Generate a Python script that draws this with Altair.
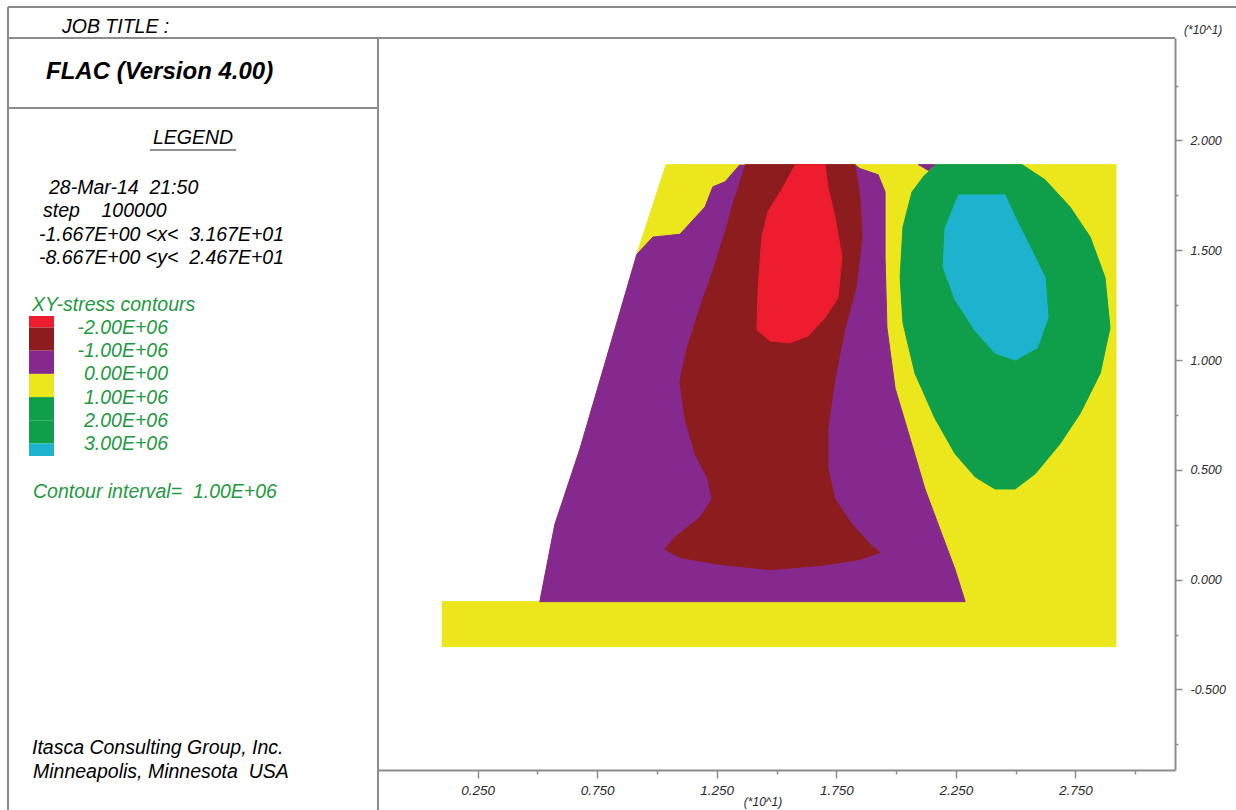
import altair as alt
import pandas as pd

# ---------------------------------------------------------------
# FLAC XY-stress contour plot (coordinates in metres)
# ---------------------------------------------------------------
X_MIN, X_MAX = -1.667, 31.667
Y_MIN, Y_MAX = -8.667, 24.667

X_TICKS = [2.5, 5.0, 7.5, 10.0, 12.5, 15.0, 17.5, 20.0, 22.5, 25.0, 27.5, 30.0]
Y_TICKS = [-7.5, -5.0, -2.5, 0.0, 2.5, 5.0, 7.5, 10.0, 12.5, 15.0, 17.5, 20.0, 22.5]

# model outline (0 .. 1e6 band fills the whole grid)
DOMAIN_X = [1.0, 29.2, 29.2, 10.38, 9.16, 6.78, 5.73, 5.10, 1.0]
DOMAIN_Y = [-3.05, -3.05, 18.9, 18.9, 14.82, 5.96, 2.52, -1.0, -1.0]

# -1e6 .. 0 band
PURPLE_X = [13.47, 12.85, 12.34, 12.01, 10.96, 9.83, 9.16, 6.78, 5.73, 5.10,
            22.89, 22.47, 21.84, 21.21, 20.59, 19.96, 19.62, 19.54, 19.54,
            19.25, 18.49, 18.28]
PURPLE_Y = [18.9, 18.12, 17.89, 16.97, 15.73, 15.60, 14.82, 5.96, 2.52, -1.0,
            -1.0, 0.46, 2.29, 4.13, 6.42, 8.72, 11.47, 14.68, 17.66,
            18.44, 18.72, 18.9]

# -2e6 .. -1e6 band
DARKRED_X = [13.68, 18.28, 18.49, 18.58, 18.33, 17.87, 17.45, 17.15, 17.15,
             17.45, 18.16, 18.91, 19.33, 18.49, 16.82, 14.73, 12.64, 10.96,
             10.33, 10.75, 11.80, 12.30, 12.13, 11.59, 11.17, 10.96, 11.26,
             11.80, 12.34, 12.85, 13.26]
DARKRED_Y = [18.9, 18.9, 17.43, 15.60, 13.30, 11.47, 9.17, 6.88, 5.05,
             3.67, 2.52, 1.61, 1.24, 0.92, 0.64, 0.46, 0.69, 1.01,
             1.38, 1.93, 2.84, 3.67, 4.59, 5.73, 7.34, 9.04, 10.55,
             12.39, 14.08, 15.83, 17.43]

# below -2e6
RED_X = [15.77, 17.03, 17.15, 17.45, 17.74, 17.57, 17.03, 16.32, 15.56,
         14.73, 14.18, 14.23, 14.39, 14.64, 15.15]
RED_Y = [18.9, 18.9, 17.89, 16.51, 14.68, 12.84, 11.93, 11.10, 10.78,
         10.87, 11.38, 13.30, 15.60, 16.74, 17.66]

# 1e6 .. 3e6 bands
GREEN_X = [21.63, 25.27, 26.23, 27.28, 28.12, 28.74, 28.95, 28.54, 27.70,
           26.86, 25.82, 24.98, 24.14, 23.31, 22.47, 21.63, 20.79, 20.29,
           20.17, 20.29, 20.67, 21.21]
GREEN_Y = [18.9, 18.9, 18.21, 16.97, 15.60, 13.76, 11.47, 9.40, 7.57,
           6.19, 4.82, 4.13, 4.13, 4.68, 5.73, 7.34, 9.40, 11.70,
           13.76, 16.06, 17.66, 18.44]

# above 3e6
CYAN_X = [22.59, 24.56, 24.98, 25.61, 26.23, 26.36, 25.90, 24.98, 24.14,
          23.31, 22.47, 21.97, 22.05]
CYAN_Y = [17.52, 17.52, 16.51, 15.14, 13.76, 11.93, 10.55, 10.00, 10.32,
          11.33, 12.75, 14.22, 16.06]

# small negative pocket on the crest
POCKET_X = [20.92, 21.63, 21.34]
POCKET_Y = [18.9, 18.9, 18.62]

C_RED = "#ed1c2e"
C_DARKRED = "#8d1c1f"
C_PURPLE = "#86298f"
C_YELLOW = "#ebe71c"
C_GREEN = "#0f9f4a"
C_CYAN = "#1db3ce"

# contour legend
LEVEL_LABELS = ["-2.00E+06", "-1.00E+06", "0.00E+00", "1.00E+06", "2.00E+06", "3.00E+06"]
BAND_COLORS = [C_RED, C_DARKRED, C_PURPLE, C_YELLOW, C_GREEN, C_GREEN, C_CYAN]

NB = "\u00a0"  # keeps runs of spaces in SVG text
INFO_LINES = ["28-Mar-14" + NB * 2 + "21:50",
              "step" + NB * 4 + "100000",
              "-1.667E+00 <x<" + NB * 2 + "3.167E+01",
              "-8.667E+00 <y<" + NB * 2 + "2.467E+01"]
INTERVAL_TEXT = "Contour interval=" + NB * 2 + "1.00E+06"
COMPANY_LINES = ["Itasca Consulting Group, Inc.", "Minneapolis, Minnesota" + NB * 2 + "USA"]

FONT = "Liberation Sans"
FRAME = "#8c8c8c"
TEXT_GREEN = "#23993f"

PLOT_W, PLOT_H = 797, 732
PAD_L, PAD_T = 378, 38

xscale = alt.Scale(domain=[X_MIN, X_MAX], nice=False, zero=False)
yscale = alt.Scale(domain=[Y_MIN, Y_MAX], nice=False, zero=False)

x_enc = alt.X(
    "x:Q", scale=xscale, title=None,
    axis=alt.Axis(
        orient="bottom", values=X_TICKS, grid=False,
        labelExpr="datum.value % 5 == 2.5 ? format(datum.value / 10, '.3f') : ''",
        tickSize={"condition": {"test": "datum.value % 5 == 2.5", "value": 8}, "value": 4},
        tickColor=FRAME, tickWidth=1.5, domainColor=FRAME, domainWidth=2,
        labelFont=FONT, labelFontSize=13.5, labelFontStyle="italic",
        labelColor="#2a2a2a", labelPadding=5, labelOverlap=False, labelFlush=False,
    ),
)
y_enc = alt.Y(
    "y:Q", scale=yscale, title=None,
    axis=alt.Axis(
        orient="right", values=Y_TICKS, grid=False,
        labelExpr="datum.value % 5 == 0 ? (datum.value < 0 ? '-' : '') + format(abs(datum.value) / 10, '.3f') : ''",
        tickSize={"condition": {"test": "datum.value % 5 == 0", "value": 7}, "value": 3},
        tickColor=FRAME, tickWidth=1.5, domainColor=FRAME, domainWidth=2,
        labelFont=FONT, labelFontSize=12.5, labelFontStyle="italic",
        labelColor="#2a2a2a", labelPadding=8, labelOverlap=False, labelFlush=False,
    ),
)


def band(xs, ys, color):
    df = pd.DataFrame({"x": xs, "y": ys, "i": range(len(xs))})
    return alt.Chart(df).mark_line(
        fill=color, stroke=color, strokeWidth=1, interpolate="linear"
    ).encode(x=x_enc, y=y_enc, order="i:Q")


def label(text, px, py, size=19.5, color="black", weight="normal",
          align="left", style="italic"):
    return alt.Chart(pd.DataFrame({"t": [text]})).mark_text(
        font=FONT, fontSize=size, fontStyle=style, fontWeight=weight,
        color=color, align=align, baseline="middle",
    ).encode(x=alt.value(px - PAD_L), y=alt.value(py - PAD_T), text="t:N")


def hline(x0, x1, py, color=FRAME, w=2):
    return alt.Chart(pd.DataFrame({"k": [0]})).mark_rule(color=color, strokeWidth=w).encode(
        x=alt.value(x0 - PAD_L), x2=alt.value(x1 - PAD_L), y=alt.value(py - PAD_T))


def vline(px, y0, y1, color=FRAME, w=2):
    return alt.Chart(pd.DataFrame({"k": [0]})).mark_rule(color=color, strokeWidth=w).encode(
        x=alt.value(px - PAD_L), y=alt.value(y0 - PAD_T), y2=alt.value(y1 - PAD_T))


layers = [
    band(DOMAIN_X, DOMAIN_Y, C_YELLOW),
    band(PURPLE_X, PURPLE_Y, C_PURPLE),
    band(DARKRED_X, DARKRED_Y, C_DARKRED),
    band(RED_X, RED_Y, C_RED),
    band(GREEN_X, GREEN_Y, C_GREEN),
    band(CYAN_X, CYAN_Y, C_CYAN),
    band(POCKET_X, POCKET_Y, C_PURPLE),
]

# frame of the plot sheet
layers += [
    hline(8, 1236, 7),
    hline(8, 1175, 38),
    hline(8, 378, 108),
    vline(8, 7, 810),
    vline(378, 38, 810),
]

# header and legend text
layers += [
    label("JOB TITLE :", 62, 27, size=19.5),
    label("FLAC (Version 4.00)", 46, 72, size=24, weight="bold"),
    label("LEGEND", 193, 138, size=19.5, align="center"),
    hline(150, 236, 150, color="#222222", w=1.2),
]
for k, line in enumerate(INFO_LINES):
    start = [49, 43, 39, 39][k]
    layers.append(label(line, start, 188 + 23.3 * k, size=19.5))

layers.append(label("XY-stress contours", 32, 305, size=19.5, color=TEXT_GREEN))

swatch_edges = [316] + [327.5 + 23.2 * k for k in range(6)] + [456]
for k, color in enumerate(BAND_COLORS):
    layers.append(
        alt.Chart(pd.DataFrame({"k": [k]})).mark_rect(color=color).encode(
            x=alt.value(29 - PAD_L), x2=alt.value(54 - PAD_L),
            y=alt.value(swatch_edges[k] - PAD_T), y2=alt.value(swatch_edges[k + 1] - PAD_T))
    )
for k, lvl in enumerate(LEVEL_LABELS):
    layers.append(label(lvl, 168, 328 + 23.2 * k, size=19.5, color=TEXT_GREEN, align="right"))

layers += [
    label(INTERVAL_TEXT, 33, 492, size=19.5, color=TEXT_GREEN),
    label(COMPANY_LINES[0], 32, 748, size=19.5),
    label(COMPANY_LINES[1], 33, 772, size=19.5),
    label("(*10^1)", 763, 802, size=12, align="center", color="#2a2a2a"),
    label("(*10^1)", 1184, 30, size=12, color="#2a2a2a"),
]

chart = alt.layer(*layers).properties(
    width=PLOT_W, height=PLOT_H,
    padding={"left": PAD_L, "top": PAD_T, "right": 1236 - PAD_L - PLOT_W,
             "bottom": 810 - PAD_T - PLOT_H},
    autosize=alt.AutoSizeParams(type="none"),
    background="white",
).configure_view(stroke=None)

chart.save("out.html", embed_options={"renderer": "svg", "actions": False})
